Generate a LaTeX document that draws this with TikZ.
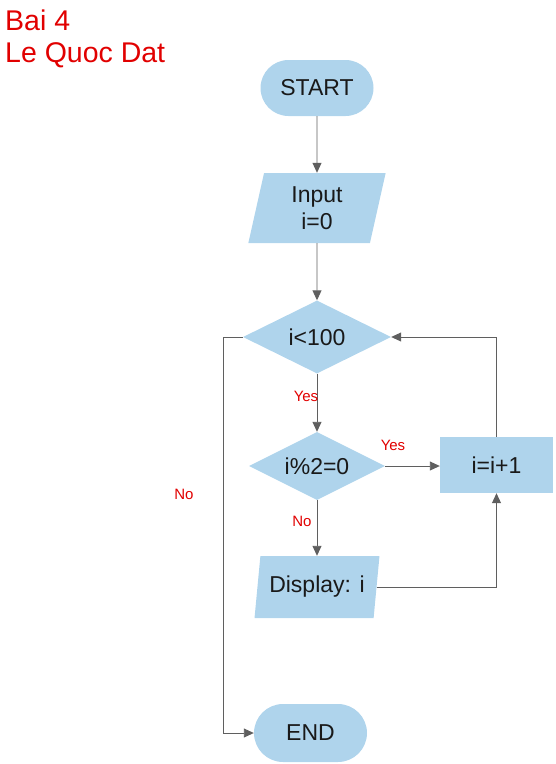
\documentclass[tikz,border=0pt]{standalone}
\usepackage{fontspec}
\setmainfont{Liberation Sans}
\usetikzlibrary{shapes.geometric,shapes.misc,arrows.meta}
\definecolor{boxblue}{RGB}{175,212,236}
\definecolor{linegray}{RGB}{95,95,95}
\definecolor{lblred}{RGB}{225,0,0}
\begin{document}
\begin{tikzpicture}[x=1pt,y=-1pt,
  every node/.style={font=\fontsize{23}{27}\selectfont,text=black!90,inner sep=0pt},
  term/.style={rounded rectangle,fill=boxblue,minimum width=113pt,minimum height=56pt},
  io/.style={trapezium,trapezium left angle=#1,trapezium right angle=180-#1,
    trapezium stretches=true,fill=boxblue,align=center},
  cond/.style={diamond,fill=boxblue,aspect=2},
  proc/.style={rectangle,fill=boxblue,minimum width=113pt,minimum height=56pt},
  lbl/.style={font=\fontsize{15}{18}\selectfont,text=lblred},
  line/.style={draw=linegray,line width=0.9pt,-{Triangle[length=10pt,width=9pt]}}]
  \useasboundingbox (0,0) rectangle (556,764);
  %\fill[white] (0,0) rectangle (556,764);
  \node[font=\fontsize{28.5}{32}\selectfont,text=lblred,anchor=base west] (title1) at (5,30) {Bai 4};
  \node[font=\fontsize{28.5}{32}\selectfont,text=lblred,anchor=base west] (title2) at (5,62) {Le Quoc Dat};
  \node[term] (start) at (317,88) {START};
  \node[io=80,minimum width=138pt,minimum height=70pt] (input) at (317,208) {Input\\i=0};
  \node[cond,minimum width=148pt,minimum height=73pt] (test1) at (317,337) {i<100};
  \node[cond,minimum width=136pt,minimum height=68pt] (test2) at (317,466) {i\%2=0};
  \node[proc] (incr) at (496.5,465) {i=i+1};
  \node[io=77,minimum width=125pt,minimum height=62pt] (show) at (317,587) {Display: i};
  \node[term,minimum height=58pt] (stop) at (310.5,733) {END};
  \coordinate (back) at (223,337);
  \draw[line] (start) -- (input);
  \draw[line] (input) -- (test1);
  \draw[line] (test1) -- (test2);
  \draw[line] (test2.east) -- (test2.east -| incr.west);
  \draw[line] (test2) -- (show);
  \draw[line] (show.east) -| (incr.south);
  \draw[line] (incr.north) |- (test1.east);
  \draw[line] (test1.west) -- (back) |- (stop.west);
  \node[lbl] (yes1) at (306,396) {Yes};
  \node[lbl] (yes2) at (393,445) {Yes};
  \node[lbl] (no2) at (302,521) {No};
  \node[lbl] (no1) at (184,494) {No};
\end{tikzpicture}
\end{document}
